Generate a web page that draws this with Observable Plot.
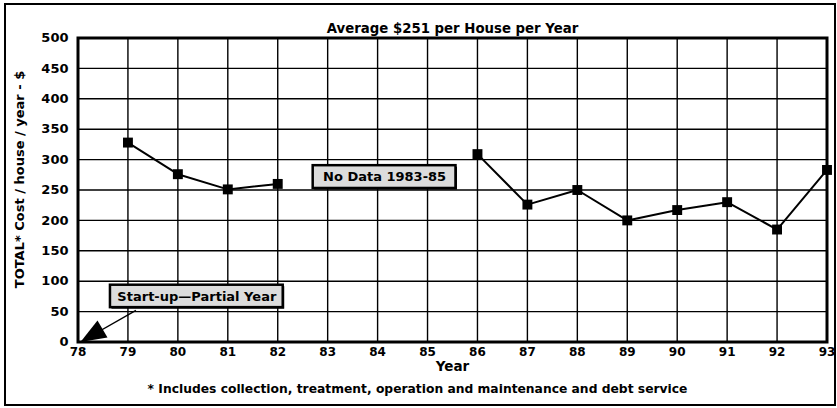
<!DOCTYPE html>
<html>
<head>
<meta charset="utf-8">
<script src="https://cdn.jsdelivr.net/npm/d3@7"></script>
<script src="https://cdn.jsdelivr.net/npm/@observablehq/plot@0.6"></script>
<style>
  html, body { margin: 0; padding: 0; background: #fff; }
  #wrap { position: relative; width: 837px; height: 408px; }
  #border { position: absolute; left: 4px; top: 3px; width: 827.5px; height: 399px; border: 2.5px solid #000; pointer-events: none; }
</style>
</head>
<body>
<div id="wrap"><div id="border"></div></div>
<script>
// ---- data ----
const years  = [79, 80, 81, 82, 86, 87, 88, 89, 90, 91, 92, 93];
const costs  = [328, 276, 251, 260, 309, 226, 250, 200, 217, 230, 185, 283];
const segment = ["a", "a", "a", "a", "b", "b", "b", "b", "b", "b", "b", "b"];
const xTicks = [78, 79, 80, 81, 82, 83, 84, 85, 86, 87, 88, 89, 90, 91, 92, 93];
const yTicks = [0, 50, 100, 150, 200, 250, 300, 350, 400, 450, 500];

const title = "Average $251 per House per Year";
const yLabel = "TOTAL* Cost / house / year - $";
const xLabel = "Year";
const footnote = "* Includes collection, treatment, operation and maintenance and debt service";

// annotation boxes (data space)
const notes = [
  {label: "No Data 1983-85", x1: 82.71, x2: 85.57, y1: 252.5, y2: 290},
  {label: "Start-up\u2014Partial Year", x1: 78.65, x2: 82.11, y1: 56.5, y2: 93.4}
];
// arrow from the start-up box to the origin
const arrowFrom = {x: 79.16, y: 52};
const arrowTo   = {x: 78.05, y: 0};

const data = years.map((y, i) => ({year: y, cost: costs[i], seg: segment[i]}));

const arrowHead = {
  draw(context) {
    context.moveTo(0, 0);
    context.lineTo(27, -4.5);
    context.lineTo(17, -21.5);
    context.closePath();
  }
};

const font = "'DejaVu Sans', Verdana, sans-serif";

const chart = Plot.plot({
  width: 837,
  height: 408,
  marginLeft: 77.5,
  marginRight: 10.5,
  marginTop: 37.5,
  marginBottom: 66.5,
  style: {fontFamily: font, fontSize: "12.5px", fontWeight: "bold", color: "#000", background: "transparent"},
  x: {domain: [78, 93]},
  y: {domain: [0, 500]},
  marks: [
    Plot.gridX(xTicks, {stroke: "#000", strokeOpacity: 1, strokeWidth: 1.4}),
    Plot.gridY(yTicks, {stroke: "#000", strokeOpacity: 1, strokeWidth: 1.4}),
    Plot.axisX(xTicks, {tickSize: 0, tickPadding: 5, tickFormat: d => String(d), label: null, fontSize: 12}),
    Plot.axisY(yTicks, {tickSize: 0, tickPadding: 9.5, tickFormat: d => String(d), label: null, fontSize: 13}),
    Plot.frame({stroke: "#000", strokeWidth: 3}),
    Plot.line(data, {x: "year", y: "cost", z: "seg", stroke: "#000", strokeWidth: 2}),
    Plot.dot(data, {x: "year", y: "cost", symbol: "square", r: 5.6, fill: "#000", stroke: "none"}),
    Plot.link([0], {x1: () => arrowFrom.x, y1: () => arrowFrom.y, x2: () => arrowTo.x, y2: () => arrowTo.y, stroke: "#000", strokeWidth: 1.4}),
    Plot.dot([0], {x: () => arrowTo.x, y: () => arrowTo.y, symbol: arrowHead, fill: "#000", stroke: "none"}),
    Plot.rect(notes, {x1: "x1", x2: "x2", y1: "y1", y2: "y2", fill: "#000", dx: 1.5, dy: 1.5}),
    Plot.rect(notes, {x1: "x1", x2: "x2", y1: "y1", y2: "y2", fill: "#dcdcdc", stroke: "#000", strokeWidth: 2.5}),
    Plot.text(notes, {x: d => (d.x1 + d.x2) / 2, y: d => (d.y1 + d.y2) / 2, text: "label", fontSize: 13, fill: "#000"}),
    Plot.text([title], {frameAnchor: "top", dy: -14.5, text: d => d, fontSize: 13.3}),
    Plot.text([xLabel], {frameAnchor: "bottom", dy: 29, text: d => d, fontSize: 13.5}),
    Plot.text([footnote], {frameAnchor: "bottom", dy: 50.5, dx: -35, text: d => d, fontSize: 12.3}),
    Plot.text([yLabel], {frameAnchor: "left", textAnchor: "middle", rotate: -90, dx: -58.5, dy: -10.5, text: d => d, fontSize: 13})
  ]
});
document.getElementById("wrap").prepend(chart);
</script>
</body>
</html>
